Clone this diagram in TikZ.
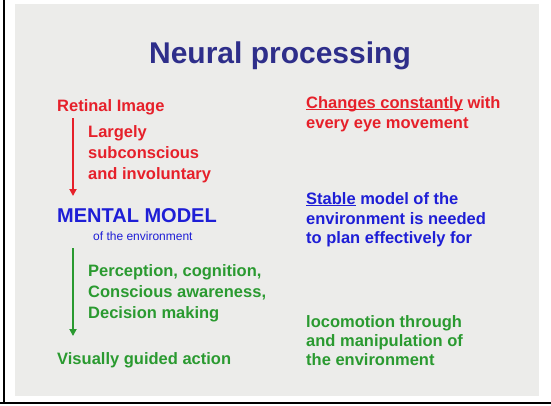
\documentclass[tikz,border=0pt]{standalone}
\usepackage{fontspec}
\setmainfont{Liberation Sans}
\usetikzlibrary{arrows.meta}
\definecolor{navy}{HTML}{2E2E8A}
\definecolor{slred}{HTML}{E6202A}
\definecolor{slblue}{HTML}{1E1ED6}
\definecolor{slgreen}{HTML}{2A9A30}
\definecolor{slbg}{HTML}{ECECEA}
\newsavebox\ulbox
\newcommand\ulwords[1]{\sbox\ulbox{#1}\rlap{\rule[-1.7pt]{\wd\ulbox}{1.1pt}}\usebox\ulbox}
\begin{document}
\begin{tikzpicture}[x=1pt,y=-1pt,
  txt/.style={anchor=base west,inner sep=0pt,font=\fontsize{16.5}{19}\selectfont\bfseries},
  redtxt/.style={txt,text=slred},
  bluetxt/.style={txt,text=slblue},
  greentxt/.style={txt,text=slgreen},
  arr/.style={line width=2pt,-{Triangle[length=7pt,width=7pt]}}]
\useasboundingbox (0,0) rectangle (551,405);
\fill[white] (0,0) rectangle (551,405);
\fill[slbg] (15,4) rectangle (539,396);
\fill[black] (3,0) rectangle (5.2,404);
\fill[black] (0,401.5) rectangle (551,404);
% title
\node[anchor=base,inner sep=0pt,text=navy,font=\fontsize{30}{36}\selectfont\bfseries] (title) at (280,63) {Neural processing};
% left column
\node[redtxt] (ret) at (57,111) {Retinal Image};
\node[redtxt] (la1) at (88,137) {Largely};
\node[redtxt] (la2) at (88,158) {subconscious};
\node[redtxt] (la3) at (88,179) {and involuntary};
\node[bluetxt,font=\fontsize{20}{24}\selectfont\bfseries] (mm) at (57,222) {MENTAL MODEL};
\node[anchor=base west,inner sep=0pt,text=slblue,font=\fontsize{12}{14}\selectfont] (mmenv) at (93,240) {of the environment};
\node[greentxt] (pc1) at (88,276) {Perception, cognition,};
\node[greentxt] (pc2) at (88,297) {Conscious awareness,};
\node[greentxt] (pc3) at (88,318) {Decision making};
\node[greentxt] (act) at (57,364) {Visually guided action};
% right column
\node[redtxt] (ch1) at (306,108) {\ulwords{Changes constantly} with};
\node[redtxt] (ch2) at (306,128) {every eye movement};
\node[bluetxt] (st1) at (306,204) {\ulwords{Stable} model of the};
\node[bluetxt] (st2) at (306,224) {environment is needed};
\node[bluetxt] (st3) at (306,243) {to plan effectively for};
\node[greentxt] (lo1) at (306,327) {locomotion through};
\node[greentxt] (lo2) at (306,346) {and manipulation of};
\node[greentxt] (lo3) at (306,365) {the environment};
% arrows
\coordinate (r1) at (73,118);
\coordinate (r2) at (73,196);
\coordinate (g1) at (73,248);
\coordinate (g2) at (73,336);
\draw[arr,draw=slred,fill=slred] (r1) -- (r2);
\draw[arr,draw=slgreen,fill=slgreen] (g1) -- (g2);
\end{tikzpicture}
\end{document}
